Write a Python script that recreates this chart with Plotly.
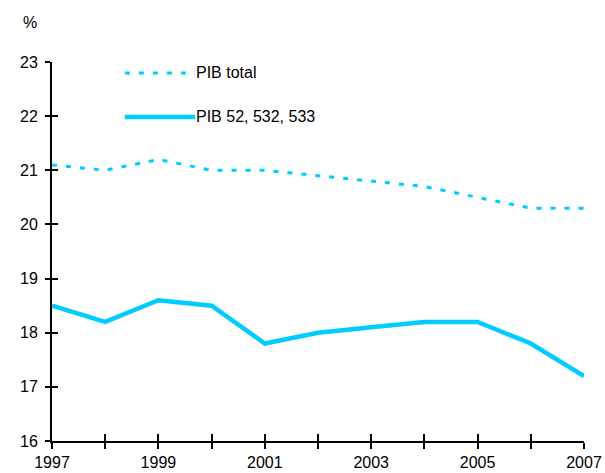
import plotly.graph_objects as go

years = list(range(1997, 2008))
pib_total = [21.1, 21.0, 21.2, 21.0, 21.0, 20.9, 20.8, 20.7, 20.5, 20.3, 20.3]
pib_52 = [18.5, 18.2, 18.6, 18.5, 17.8, 18.0, 18.1, 18.2, 18.2, 17.8, 17.2]
tick_years = years
tick_labels = [str(y) if y % 2 == 1 else "" for y in years]
y_ticks = list(range(16, 24))
series_names = ["PIB total", "PIB 52, 532, 533"]

COLOR = "#00CCFF"
FONT = "Liberation Sans, Arial, sans-serif"

fig = go.Figure()
fig.add_trace(go.Scatter(x=years, y=pib_total, mode="lines", name=series_names[0],
                         line=dict(color=COLOR, width=3, dash="5px,9px"), showlegend=False))
fig.add_trace(go.Scatter(x=years, y=pib_52, mode="lines", name=series_names[1],
                         line=dict(color=COLOR, width=4.5), showlegend=False))

# custom legend (line samples + labels)
leg_x0, leg_x1 = 0.137, 0.269
for yy, dash, w, name in [(0.971, "5px,9px", 3, series_names[0]), (0.855, "solid", 4.5, series_names[1])]:
    fig.add_shape(type="line", xref="paper", yref="paper", x0=leg_x0, x1=leg_x1, y0=yy, y1=yy,
                  line=dict(color=COLOR, width=w, dash=dash))
    fig.add_annotation(xref="paper", yref="paper", x=leg_x1, y=yy, text=name,
                       showarrow=False, xanchor="left", yanchor="middle", xshift=-1,
                       font=dict(family=FONT, size=16, color="black"))

fig.add_annotation(xref="paper", yref="paper", x=-0.041, y=1.103, text="%", showarrow=False,
                   xanchor="center", yanchor="middle", font=dict(family=FONT, size=16, color="black"))

axis_common = dict(showgrid=False, zeroline=False, tickcolor="black", tickwidth=2, automargin=False,
                   tickfont=dict(family=FONT, size=16, color="black"))

fig.update_layout(
    width=605, height=473,
    margin=dict(l=52, r=21, t=62, b=32, autoexpand=False),
    paper_bgcolor="white", plot_bgcolor="white",
    xaxis=dict(range=[1997, 2007], tickmode="array", tickvals=tick_years, ticktext=tick_labels,
               ticks="outside", ticklen=6, showline=True, linecolor="black", linewidth=2,
               **axis_common),
    yaxis=dict(range=[16, 23], tickmode="array", tickvals=y_ticks, ticks="outside", ticklen=5,
               showline=True, linecolor="black", linewidth=2, ticklabelstandoff=4, **axis_common),
    xaxis2=dict(range=[1997, 2007], overlaying="x", anchor="y", side="bottom", tickmode="array",
                tickvals=tick_years, ticks="inside", ticklen=7, showticklabels=False,
                showline=False, **axis_common),
    yaxis2=dict(range=[16, 23], overlaying="y", anchor="x", side="left", tickmode="array",
                tickvals=y_ticks, ticks="inside", ticklen=6, showticklabels=False,
                showline=False, **axis_common),
)
# dummy invisible trace to activate secondary axes
fig.add_trace(go.Scatter(x=[years[0]], y=[y_ticks[0]], xaxis="x2", yaxis="y2", mode="markers",
                         marker=dict(opacity=0), showlegend=False, hoverinfo="skip"))

fig.write_html("out.html", config={"displayModeBar": False},
               post_script="document.body.style.margin='0';document.body.style.overflow='hidden';")
